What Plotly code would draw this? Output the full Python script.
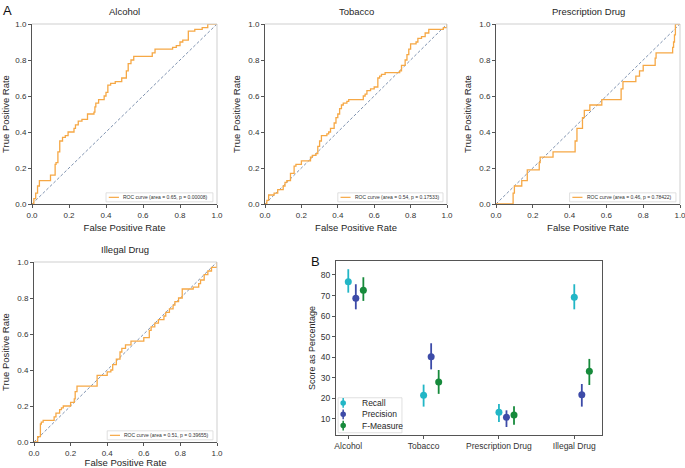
import plotly.graph_objects as go

# ---------------- data ----------------
roc_titles = ["Alcohol", "Tobacco", "Prescription Drug", "Illegal Drug"]
roc_auc = ["0.65", "0.54", "0.46", "0.51"]
roc_p = ["0.00008", "0.17533", "0.78422", "0.39655"]

alcohol_fpr = [0, 0.01, 0.02, 0.03, 0.04, 0.10, 0.125, 0.13, 0.14, 0.15, 0.165, 0.18, 0.195, 0.227,
               0.235, 0.25, 0.27, 0.30, 0.335, 0.34, 0.345, 0.36, 0.39, 0.40, 0.41, 0.425, 0.45, 0.485,
               0.51, 0.52, 0.535, 0.55, 0.65, 0.665, 0.76, 0.78, 0.80, 0.815, 0.845, 0.88, 0.92, 0.95, 1.0]
alcohol_tpr = [0, 0.03, 0.06, 0.10, 0.13, 0.16, 0.22, 0.23, 0.29, 0.35, 0.37, 0.38, 0.40, 0.42,
               0.44, 0.46, 0.47, 0.50, 0.51, 0.54, 0.56, 0.58, 0.60, 0.62, 0.66, 0.67, 0.68, 0.70,
               0.74, 0.78, 0.80, 0.82, 0.84, 0.86, 0.87, 0.88, 0.90, 0.91, 0.96, 0.97, 0.98, 1.00, 1.00]

tobacco_fpr = [0, 0.01, 0.02, 0.05, 0.07, 0.10, 0.11, 0.12, 0.14, 0.16, 0.17, 0.20, 0.25, 0.26, 0.28,
               0.29, 0.30, 0.31, 0.34, 0.35, 0.36, 0.38, 0.39, 0.40, 0.41, 0.42, 0.43, 0.45, 0.46, 0.54,
               0.55, 0.56, 0.58, 0.60, 0.62, 0.63, 0.64, 0.66, 0.74, 0.75, 0.77, 0.78, 0.79, 0.80, 0.83,
               0.84, 0.86, 0.88, 0.90, 0.98, 1.0]
tobacco_tpr = [0, 0.02, 0.05, 0.06, 0.08, 0.10, 0.12, 0.13, 0.17, 0.21, 0.22, 0.24, 0.26, 0.27, 0.28,
               0.32, 0.35, 0.38, 0.39, 0.40, 0.42, 0.45, 0.48, 0.50, 0.53, 0.55, 0.56, 0.57, 0.58, 0.60,
               0.61, 0.63, 0.64, 0.65, 0.70, 0.71, 0.72, 0.73, 0.74, 0.77, 0.80, 0.83, 0.86, 0.89, 0.90,
               0.92, 0.93, 0.95, 0.97, 0.98, 1.0]

prescription_fpr = [0, 0.093, 0.10, 0.14, 0.17, 0.235, 0.24, 0.31, 0.43, 0.44, 0.47, 0.48, 0.51,
                    0.575, 0.68, 0.69, 0.76, 0.78, 0.80, 0.865, 0.87, 0.96, 0.965, 0.97, 0.975, 1.0]
prescription_tpr = [0, 0.06, 0.10, 0.13, 0.19, 0.23, 0.26, 0.29, 0.35, 0.42, 0.48, 0.52, 0.55,
                    0.58, 0.64, 0.68, 0.71, 0.74, 0.77, 0.81, 0.84, 0.87, 0.90, 0.94, 1.0, 1.0]

illegal_fpr = [0, 0.02, 0.035, 0.04, 0.05, 0.11, 0.12, 0.14, 0.15, 0.16, 0.20, 0.22, 0.225, 0.235,
               0.345, 0.40, 0.42, 0.43, 0.45, 0.47, 0.48, 0.50, 0.53, 0.60, 0.63, 0.64, 0.66, 0.68,
               0.71, 0.72, 0.74, 0.76, 0.77, 0.79, 0.81, 0.87, 0.90, 0.91, 0.93, 0.95, 0.97, 1.0]
illegal_tpr = [0, 0.03, 0.10, 0.11, 0.12, 0.14, 0.16, 0.18, 0.19, 0.20, 0.22, 0.24, 0.28, 0.31,
               0.37, 0.39, 0.40, 0.43, 0.46, 0.50, 0.52, 0.54, 0.56, 0.58, 0.62, 0.64, 0.66, 0.68,
               0.70, 0.72, 0.74, 0.76, 0.78, 0.80, 0.85, 0.86, 0.88, 0.90, 0.93, 0.95, 0.97, 1.0]

chance = [0, 1]
roc_ticks = [0, 0.2, 0.4, 0.6, 0.8, 1.0]

categories = ["Alcohol", "Tobacco", "Prescription Drug", "Illegal Drug"]
recall = [76.7, 21.5, 13.3, 69.2]
recall_lo = [71.4, 16.0, 8.5, 63.3]
recall_hi = [82.8, 26.7, 17.3, 75.5]
precision = [68.7, 40.3, 10.8, 21.8]
precision_lo = [63.3, 34.1, 6.1, 16.0]
precision_hi = [75.5, 46.8, 14.2, 27.0]
fmeasure = [72.6, 28.0, 11.9, 33.2]
fmeasure_lo = [67.4, 22.2, 7.2, 26.5]
fmeasure_hi = [78.9, 33.8, 16.2, 39.2]
score_ticks = [10, 20, 30, 40, 50, 60, 70, 80]
series_names = ["Recall", "Precision", "F-Measure"]

# ---------------- style ----------------
FONT = "Liberation Sans, Arial, sans-serif"
ORANGE = "#f6a845"
DIAG = "#7f93b0"
DARK = "#555555"
LIGHT = "#cfcfcf"
COLORS = ["#22b6c6", "#3d4ba8", "#168a3b"]
W, H = 685, 468

def dom_x(a, b):
    return [a / W, b / W]

def dom_y(top, bottom):
    return [1 - bottom / H, 1 - top / H]

roc_domains = [
    (dom_x(32, 217), dom_y(24, 204)),
    (dom_x(265, 447), dom_y(24, 204)),
    (dom_x(496, 680), dom_y(24, 204)),
    (dom_x(34, 217), dom_y(262, 442)),
]
roc_data = [(alcohol_fpr, alcohol_tpr), (tobacco_fpr, tobacco_tpr),
            (prescription_fpr, prescription_tpr), (illegal_fpr, illegal_tpr)]

fig = go.Figure()
layout = dict(
    width=W, height=H, margin=dict(l=0, r=0, t=0, b=0, pad=0), autosize=False,
    paper_bgcolor="white", plot_bgcolor="white",
    font=dict(family=FONT, color="#262626"),
    showlegend=False,
)
shapes = []
annotations = []

for i in range(4):
    k = i + 1
    xa = "x" if k == 1 else f"x{k}"
    ya = "y" if k == 1 else f"y{k}"
    xname = "xaxis" if k == 1 else f"xaxis{k}"
    yname = "yaxis" if k == 1 else f"yaxis{k}"
    fpr, tpr = roc_data[i]
    fig.add_trace(go.Scatter(x=chance, y=chance, mode="lines", xaxis=xa, yaxis=ya,
                             line=dict(color=DIAG, width=1, dash="3px,2px"), hoverinfo="skip"))
    fig.add_trace(go.Scatter(x=fpr, y=tpr, mode="lines", xaxis=xa, yaxis=ya,
                             line=dict(color=ORANGE, width=1.3, shape="hv"),
                             name=f"ROC curve (area = {roc_auc[i]}, p = {roc_p[i]})"))
    dx, dy = roc_domains[i]
    layout[xname] = dict(domain=dx, range=[0, 1], anchor=ya, tickvals=roc_ticks, tickformat=".1f",
                         ticks="outside", ticklen=3, tickwidth=1, tickcolor=DARK, automargin=False,
                         ticklabeloverflow="allow",
                         showline=True, linecolor=DARK, linewidth=1, showgrid=False, zeroline=False,
                         tickfont=dict(size=8, color="#333"),
                         title=dict(text="False Positive Rate", font=dict(size=9.5, color="#262626"), standoff=5))
    layout[yname] = dict(domain=dy, range=[0, 1], anchor=xa, tickvals=roc_ticks, tickformat=".1f",
                         ticks="outside", ticklen=3, tickwidth=1, tickcolor=DARK, automargin=False,
                         ticklabeloverflow="allow",
                         showline=True, linecolor=DARK, linewidth=1, showgrid=False, zeroline=False,
                         tickfont=dict(size=8, color="#333"),
                         title=dict(text="True Positive Rate", font=dict(size=9.5, color="#262626"), standoff=5))
    xd, yd = f"{xa} domain", f"{ya} domain"
    # light top/right frame
    shapes.append(dict(type="line", xref=xd, yref=yd, x0=0, x1=1, y0=1, y1=1,
                       line=dict(color=LIGHT, width=1)))
    shapes.append(dict(type="line", xref=xd, yref=yd, x0=1, x1=1, y0=0, y1=1,
                       line=dict(color=LIGHT, width=1)))
    # legend box
    shapes.append(dict(type="rect", xref=xd, yref=yd, x0=0.40, x1=0.978, y0=0.012, y1=0.062,
                       line=dict(color="#d8d8d8", width=0.8), fillcolor="white"))
    shapes.append(dict(type="line", xref=xd, yref=yd, x0=0.415, x1=0.47, y0=0.037, y1=0.037,
                       line=dict(color=ORANGE, width=1.2)))
    annotations.append(dict(xref=xd, yref=yd, x=0.482, y=0.037, xanchor="left", yanchor="middle",
                            text=f"ROC curve (area = {roc_auc[i]}, p = {roc_p[i]})",
                            showarrow=False, font=dict(size=5, color="#333")))
    # subplot title
    annotations.append(dict(xref=xd, yref=yd, x=0.5, y=1, xanchor="center", yanchor="bottom", yshift=5,
                            text=roc_titles[i], showarrow=False, font=dict(size=9.5, color="#262626")))

# ---------------- panel B ----------------
offsets = [0.0, 0.1, 0.2]
series = [(recall, recall_lo, recall_hi), (precision, precision_lo, precision_hi),
          (fmeasure, fmeasure_lo, fmeasure_hi)]
for j, (vals, lo, hi) in enumerate(series):
    xs = [c + offsets[j] for c in range(len(categories))]
    fig.add_trace(go.Scatter(
        x=xs, y=vals, mode="markers", xaxis="x5", yaxis="y5", name=series_names[j],
        marker=dict(color=COLORS[j], size=7),
        error_y=dict(type="data", array=[h - v for h, v in zip(hi, vals)],
                     arrayminus=[v - l for v, l in zip(vals, lo)],
                     color=COLORS[j], thickness=1.8, width=0),
    ))

bx, by = dom_x(336, 602), dom_y(261, 435)
layout["xaxis5"] = dict(domain=bx, range=[-0.163, 3.368], anchor="y5", automargin=False,
                        tickvals=list(range(len(categories))), ticktext=categories,
                        ticks="outside", ticklen=3, tickcolor=DARK, showline=True, mirror=True,
                        linecolor=DARK, linewidth=1, showgrid=False, zeroline=False,
                        tickfont=dict(size=8.5, color="#333"))
layout["yaxis5"] = dict(domain=by, range=[2.2, 86.8], anchor="x5", tickvals=score_ticks, automargin=False,
                        ticks="outside", ticklen=3, tickcolor=DARK, showline=True, mirror=True,
                        linecolor=DARK, linewidth=1, showgrid=False, zeroline=False,
                        tickfont=dict(size=8.5, color="#333"),
                        title=dict(text="Score as Percentage", font=dict(size=9, color="#262626"), standoff=3))

# legend for panel B
shapes.append(dict(type="rect", xref="x5 domain", yref="y5 domain", x0=0.008, x1=0.248, y0=0.013, y1=0.214,
                   line=dict(color="#d8d8d8", width=0.8), fillcolor="white"))
leg_y = [0.184, 0.119, 0.054]
for j in range(3):
    shapes.append(dict(type="line", xref="x5 domain", yref="y5 domain", x0=0.027, x1=0.027,
                       y0=leg_y[j] - 0.028, y1=leg_y[j] + 0.028, line=dict(color=COLORS[j], width=1.5)))
    shapes.append(dict(type="circle", xref="x5 domain", yref="y5 domain", x0=0.027 - 0.0105, x1=0.027 + 0.0105,
                       y0=leg_y[j] - 0.016, y1=leg_y[j] + 0.016, line=dict(width=0), fillcolor=COLORS[j]))
    annotations.append(dict(xref="x5 domain", yref="y5 domain", x=0.092, y=leg_y[j], xanchor="left",
                            yanchor="middle", text=series_names[j], showarrow=False,
                            font=dict(size=8.5, color="#262626")))

# panel letters
annotations.append(dict(xref="paper", yref="paper", x=1 / W, y=1 - 1 / H, xanchor="left", yanchor="top",
                        text="A", showarrow=False, font=dict(size=13, color="#111")))
annotations.append(dict(xref="paper", yref="paper", x=309 / W, y=1 - 252 / H, xanchor="left", yanchor="top",
                        text="B", showarrow=False, font=dict(size=13, color="#111")))

layout["shapes"] = shapes
layout["annotations"] = annotations
fig.update_layout(**layout)
fig.write_html(
    "out.html",
    config={"displayModeBar": False},
    post_script="document.body.style.margin='0';document.body.style.padding='0';"
                "document.documentElement.style.overflow='hidden';",
)
